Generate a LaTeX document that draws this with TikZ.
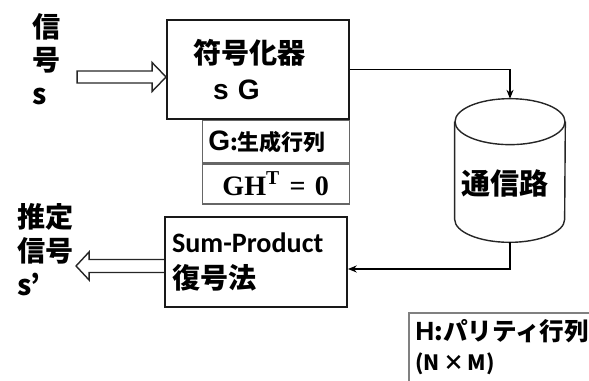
\documentclass[tikz,border=0pt]{standalone}
\usepackage[no-math]{fontspec}
\setmainfont{Liberation Sans}
\newfontfamily\jp{Noto Sans CJK JP}
\newfontfamily\carl{Carlito}
\newfontfamily\tms{Liberation Serif}
\usepackage{tikz}
\usetikzlibrary{calc,positioning,arrows.meta}

\tikzset{
  blk/.style={draw=black!90, line width=1.1pt, minimum width=3.64cm, inner sep=0pt, align=left},
  tbl/.style={draw=black!60, line width=0.8pt, minimum width=2.94cm, inner sep=0pt, align=left},
  lin/.style={line width=0.8pt, -{Stealth[length=5pt,width=4pt]}},
  hol/.style={line width=0.8pt, draw=black!85},
}

\begin{document}
\begin{tikzpicture}[x=0.02cm,y=0.02cm]
            \useasboundingbox (0,0) rectangle (589,381);
            \clip (0,0) rectangle (589,381);
            % 输入信号
            \node[anchor=north west, inner sep=0pt, align=left, font=\jp\bfseries\fontsize{16}{19}\selectfont] (src) at (32,368) {信\\号\\s};
            % 编码器和下面的表
            \node[blk, minimum height=1.98cm, text width=2.6cm, font=\jp\bfseries\fontsize{16}{20}\selectfont] (enc) at (258,311.5) {符号化器\\\hspace{0.4cm}{\rmfamily s\,\,G}};
            \node[tbl, minimum height=0.84cm, text width=2.7cm, anchor=north east] (gen) at (enc.south east) {{\rmfamily\bfseries\fontsize{16}{16}\selectfont G}{\jp\bfseries\fontsize{12.5}{14}\selectfont :生成行列}};
            \node[tbl, minimum height=0.8cm, text width=2.7cm, anchor=north, align=center, font=\tms\bfseries\fontsize{16}{16}\selectfont] (chk) at (gen.south) {GH\textsuperscript{T} = 0};
            % 通信路(圆柱)
            \node[minimum width=2.2cm, minimum height=2.86cm, inner sep=0pt] (chan) at (510,210.5) {};
            \draw[hol] ([yshift=-0.46cm]chan.north) ellipse (1.1cm and 0.46cm);
            \draw[hol] ([yshift=-0.46cm]chan.north west) -- ([yshift=0.46cm]chan.south west) arc (180:360:1.1cm and 0.46cm) -- ([yshift=-0.46cm]chan.north east);
            \node[font=\jp\bfseries\fontsize{16.5}{20}\selectfont] (road) at (505,198) {通信路};
            % 复号器
            \node[blk, minimum height=1.8cm, text width=3.36cm, font=\jp\bfseries\fontsize{16}{21}\selectfont] (dec) at (256,119) {{\carl\bfseries\fontsize{16}{21}\selectfont Sum-Product}\\復号法};
            % 推定信号
            \node[anchor=north west, inner sep=0pt, align=left, font=\jp\bfseries\fontsize{16}{19.5}\selectfont] (est) at (17,178) {推定\\信号\\s’};
            % H 矩阵
            \node[anchor=north west, inner sep=0.12cm, align=left, font=\jp\bfseries\fontsize{14}{17}\selectfont] (hmat) at (409,68) {{\rmfamily\bfseries\fontsize{15}{17}\selectfont H}:パリティ行列\\{\fontsize{12}{17}\selectfont (N\,×\,M)}};
            \draw[draw=black!50, line width=0.6pt] (hmat.north west) rectangle ++(220,-120);
            % 连线
            \draw[lin] (enc.east) -| (chan.north);
            \draw[lin] (chan.south) |- ([yshift=-0.14cm]dec.east);
            % 空心箭头
            \coordinate (inTip) at ([yshift=-0.15cm]enc.west);
            \draw[hol] ($(inTip)+(-89,6)$) -- ($(inTip)+(-14,6)$) -- ($(inTip)+(-14,14.5)$) -- (inTip) -- ($(inTip)+(-14,-14.5)$) -- ($(inTip)+(-14,-6)$) -- ($(inTip)+(-89,-6)$) -- cycle;
            \coordinate (outEnd) at ([yshift=-0.08cm]dec.west);
            \draw[hol] ($(outEnd)+(0,6.5)$) -- ($(outEnd)+(-75,6.5)$) -- ($(outEnd)+(-75,14)$) -- ($(outEnd)+(-88,0)$) -- ($(outEnd)+(-75,-14)$) -- ($(outEnd)+(-75,-6.5)$) -- ($(outEnd)+(0,-6.5)$);
        \end{tikzpicture}
\end{document}
